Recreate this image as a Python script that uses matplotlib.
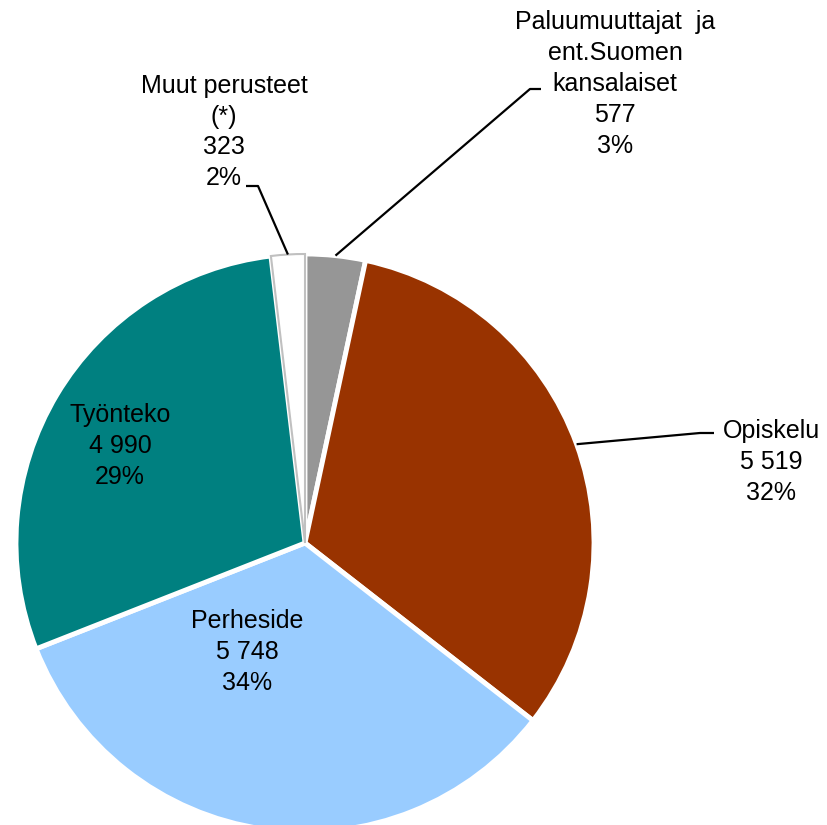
#!/usr/bin/env python3
"""Oleskelulupien perusteet - piirakkakaavio."""

import matplotlib
matplotlib.use("Agg")
import matplotlib.pyplot as plt
import numpy as np

# data (myötäpäivään ylhäältä alkaen)
labels = ["Paluumuuttajat  ja\nent.Suomen\nkansalaiset", "Opiskelu",
          "Perheside", "Työnteko", "Muut perusteet\n(*)"]
values = [577, 5519, 5748, 4990, 323]
colors = ["#969696", "#993300", "#99ccff", "#008080", "#ffffff"]

W, H = 827, 825
CX, CY, R = 305, 543, 289

# tekstien paikat (kuvapikseleinä, y alaspäin)
text_pos = [(615, 84), (771, 462), (247, 652), (120, 446), (224, 132)]
# leader-viivan taite (kuvapikseleinä)
elbows = [((530, 89), (541, 89)),
          ((700, 433), (714, 433)),
          None,
          None,
          ((258, 186), (246, 186))]

plt.rcParams["font.family"] = ["Liberation Sans", "DejaVu Sans"]

fig = plt.figure(figsize=(W / 100, H / 100), dpi=100)
ax = fig.add_axes([0, 0, 1, 1])

wedges, _ = ax.pie(values, colors=colors, startangle=90, counterclock=False,
                   center=(CX, H - CY), radius=R, frame=True,
                   wedgeprops=dict(edgecolor="white", linewidth=3.5))
wedges[-1].set_edgecolor("#c0c0c0")
wedges[-1].set_linewidth(1.5)
wedges[-1].set_zorder(3)

ax.set_xlim(0, W)
ax.set_ylim(0, H)
ax.set_aspect("equal")
ax.axis("off")

total = sum(values)


def fmt(v):
    return f"{v:,}".replace(",", " ")


for i, (lab, v) in enumerate(zip(labels, values)):
    pct = round(v / total * 100)
    tx, ty = text_pos[i]
    ax.text(tx, H - ty, f"{lab}\n{fmt(v)}\n{pct}%", ha="center", va="center",
            fontsize=18, linespacing=1.36, zorder=5)
    if elbows[i] is not None:
        w = wedges[i]
        mid = np.deg2rad((w.theta1 + w.theta2) / 2)
        ax_, ay_ = CX + R * np.cos(mid), (H - CY) + R * np.sin(mid)
        (ex, ey), (fx, fy) = elbows[i]
        ax.plot([ax_, ex, fx], [ay_, H - ey, H - fy], color="black",
                lw=1.6, zorder=4, solid_capstyle="butt")

fig.savefig("out.png", dpi=100)
